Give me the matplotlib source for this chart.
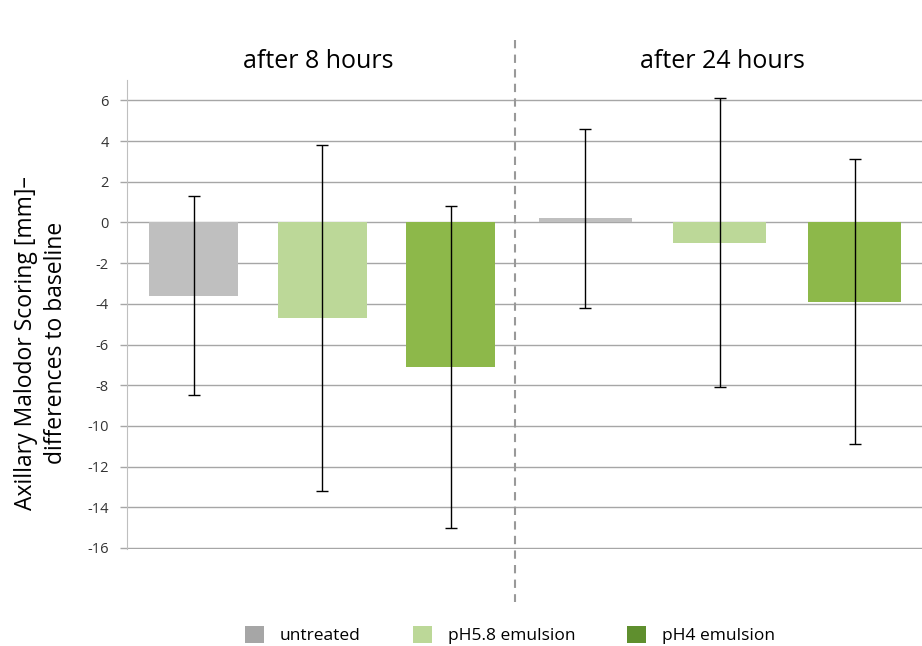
"""axillary malodor scoring, two time points"""
import matplotlib
matplotlib.use("Agg")
import matplotlib.pyplot as plt
from matplotlib.patches import Patch
from matplotlib.lines import Line2D

plt.rcParams['font.family'] = ['Open Sans', 'DejaVu Sans']
plt.rcParams['axes.unicode_minus'] = False

groups = ['untreated', 'pH5.8 emulsion', 'pH4 emulsion']
titles = ['after 8 hours', 'after 24 hours']
means_8h = [-3.6, -4.7, -7.1]
sd_8h = [4.9, 8.5, 7.9]
means_24h = [0.2, -1.0, -3.9]
sd_24h = [4.4, 7.1, 7.0]
yticks = list(range(-16, 7, 2))

bar_colors = ['#bfbfbf', '#bcd898', '#8db84a']
legend_colors = ['#a6a6a6', '#bcd898', '#5f8f2e']
grid_col = '#a6a6a6'

W, H = 922, 646
fig = plt.figure(figsize=(W / 100, H / 100), dpi=100)
bottom = 1 - 549 / H
height = (549 - 80) / H
ax1 = fig.add_axes([127 / W, bottom, (515 - 127) / W, height])
ax2 = fig.add_axes([515 / W, bottom, (922 - 515) / W, height], sharey=ax1)

for ax, means, sds in [(ax1, means_8h, sd_8h), (ax2, means_24h, sd_24h)]:
    x = range(len(groups))
    ax.set_axisbelow(True)
    ax.yaxis.grid(True, color=grid_col, linewidth=1)
    ax.bar(x, means, width=0.69, color=bar_colors, zorder=2)
    ax.errorbar(x, means, yerr=sds, fmt='none', ecolor='black',
                elinewidth=1, capsize=4, capthick=1, zorder=3)
    ax.set_xlim(-0.52, 2.5)
    ax.set_xticks([])
    for s in ['top', 'right', 'bottom']:
        ax.spines[s].set_visible(False)

fig.text(318 / W, 1 - 62 / H, titles[0], ha='center', va='center', fontsize=18)
fig.text(722 / W, 1 - 62 / H, titles[1], ha='center', va='center', fontsize=18)

ax1.set_ylim(-16.05, 7)
ax1.set_yticks(yticks)
ax1.tick_params(axis='y', length=5, width=1, color=grid_col, labelsize=10.5,
                labelcolor='#333333', pad=8)
ax1.spines['left'].set_color('#bfbfbf')
ax2.spines['left'].set_visible(False)
ax2.tick_params(axis='y', left=False, labelleft=False)

ax1.set_ylabel('Axillary Malodor Scoring [mm]–\ndifferences to baseline',
               fontsize=16.5, color='black', linespacing=1.35)
ax1.yaxis.set_label_coords((68 - 127) / 388, (549 - 343) / 469)

# dashed divider between the two panels
fig.add_artist(Line2D([515 / W, 515 / W], [1 - 40 / H, 1 - 602 / H],
                      transform=fig.transFigure, color='#999999',
                      linewidth=1.5, linestyle=(0, (4, 3))))

handles = [Patch(facecolor=c, edgecolor='none') for c in legend_colors]
fig.legend(handles, groups, loc='center', bbox_to_anchor=(510 / W, 1 - 635 / H),
           ncol=3, frameon=False, fontsize=12.5, handlelength=1.1,
           handleheight=1.1, columnspacing=3.0, handletextpad=0.9)

fig.savefig('out.png', dpi=100)
